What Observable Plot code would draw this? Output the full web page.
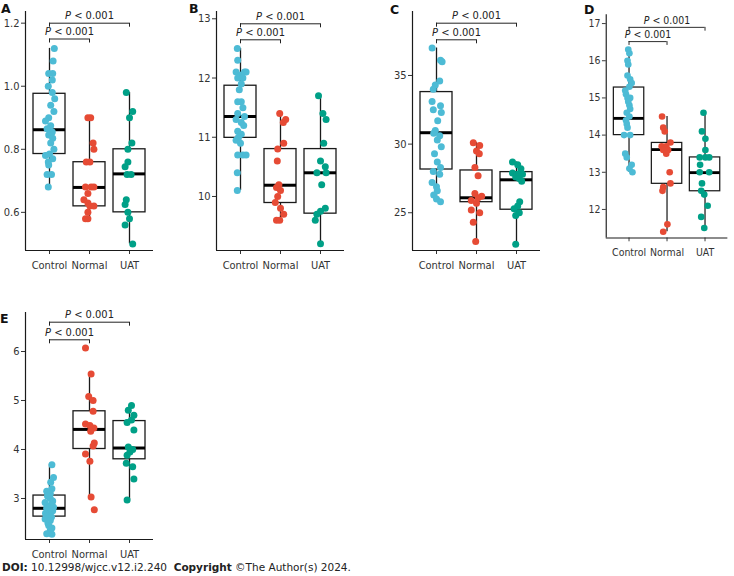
<!DOCTYPE html>
<html><head><meta charset="utf-8">
<script src="https://cdn.jsdelivr.net/npm/d3@7"></script>
<script src="https://cdn.jsdelivr.net/npm/@observablehq/plot@0.6"></script>
<style>
body{margin:0;background:#fff;overflow:hidden;}
#wrap{position:relative;width:734px;height:576px;overflow:hidden;font-family:'DejaVu Sans Condensed','DejaVu Sans',sans-serif;font-stretch:condensed;}
.panel{position:absolute;}
.letter{position:absolute;font-family:'DejaVu Sans',sans-serif;font-stretch:normal;font-weight:bold;font-size:12.5px;line-height:1.2;color:#111;}
#footer{position:absolute;left:2px;top:562px;font-family:'DejaVu Sans',sans-serif;font-stretch:normal;font-size:10.5px;line-height:1;color:#222;white-space:nowrap;}
</style></head><body><div id="wrap"></div>
<script>
const groups = ["Control", "Normal", "UAT"];
const groupColors = ["#4DBBD5", "#E64B35", "#00A087"];
const pLabel = "P < 0.001";

// ---- Panel A ----
const aControl = [1.12,1.08,1.04,1.04,1.02,1.00,0.98,0.96,0.94,0.92,0.90,0.89,0.875,0.865,0.855,0.845,0.835,0.82,0.80,0.785,0.78,0.77,0.76,0.75,0.72,0.72,0.68];
const aControlJit = [0.12,0.09,-0.02,0.08,0.07,-0.03,0.07,0.13,0.03,0.11,-0.02,-0.1,0.03,-0.06,0.07,-0.02,0.08,0.03,0.11,0,-0.1,0.08,-0.03,-0.02,-0.06,0.05,-0.03];
const aNormal = [0.90,0.90,0.82,0.80,0.76,0.76,0.68,0.68,0.68,0.66,0.64,0.63,0.62,0.62,0.60,0.58,0.58];
const aNormalJit = [-0.04,0.03,0.09,0.11,-0.08,0.01,-0.1,0.04,0.11,-0.04,-0.14,-0.04,0.01,0.11,-0.04,-0.1,-0.04];
const aUAT = [0.98,0.92,0.90,0.82,0.80,0.76,0.745,0.72,0.72,0.64,0.625,0.60,0.58,0.56,0.50];
const aUATJit = [-0.08,0.08,0,0.06,-0.04,-0.04,-0.11,-0.06,0.04,-0.08,-0.11,-0.04,0,-0.11,0.08];
const aLo = [0.68,0.58,0.50], aQ1 = [0.785,0.619,0.60], aMed = [0.862,0.679,0.722], aQ3 = [0.976,0.759,0.80], aHi = [1.12,0.90,0.98];
const aTicks = [0.6,0.8,1.0,1.2];

// ---- Panel B ----
const bControl = [12.5,12.3,12.1,12.1,12.1,12.05,12.0,12.0,11.9,11.8,11.6,11.6,11.5,11.4,11.35,11.3,11.25,11.2,11.1,11.05,11.0,10.95,10.9,10.7,10.7,10.7,10.4,10.1];
const bControlJit = [-0.08,-0.07,-0.11,0.1,0.14,0.02,-0.07,0.06,0.02,-0.03,0.02,-0.07,0.06,-0.07,0.1,-0.11,0.02,0.08,-0.07,0.02,-0.05,-0.11,0,-0.07,0.06,0.14,-0.08,-0.08];
const bNormal = [11.4,11.3,11.25,10.9,10.8,10.6,10.2,10.15,10.1,10.0,9.9,9.8,9.7,9.6,9.6];
const bNormalJit = [-0.02,0.13,0.07,0.08,-0.07,-0.08,-0.04,-0.1,0,-0.07,-0.13,0,0.08,-0.1,-0.02];
const bUAT = [11.7,11.4,11.3,10.9,10.6,10.5,10.4,10.4,10.2,9.8,9.75,9.7,9.6,9.2];
const bUATJit = [-0.05,0.06,0.14,0.08,0,0.12,-0.09,0.14,0.03,0.12,0,-0.09,-0.13,0];
const bLo = [10.1,9.6,9.2], bQ1 = [10.99,9.89,9.71], bMed = [11.35,10.19,10.40], bQ3 = [11.87,10.80,10.80], bHi = [12.5,11.4,11.7];
const bTicks = [10,11,12,13];

// ---- Panel C ----
const cControl = [37.0,36.1,36.0,34.6,34.3,34.0,33.1,32.8,32.5,32.3,31.7,31.0,30.8,30.6,30.3,29.8,29.3,28.7,28.3,28.0,27.8,27.2,26.9,26.6,26.3,26.0,25.8];
const cControlJit = [-0.11,0.1,0.14,0.08,-0.03,-0.08,-0.11,0.1,-0.08,0.12,0.03,-0.03,-0.07,0.08,0.02,0.12,-0.05,0.02,0.1,-0.08,0.08,-0.11,0,0.02,-0.07,0,0.1];
const cNormal = [30.1,29.9,29.5,29.3,28.3,27.7,26.4,26.2,26.1,25.9,25.7,25.2,25.0,24.3,22.9];
const cNormalJit = [-0.08,0.08,0,0.07,-0.04,0.04,-0.04,0.13,0.04,-0.13,0,-0.13,0.08,-0.08,-0.02];
const cUAT = [28.7,28.5,28.2,27.9,27.8,27.8,27.6,27.5,27.3,25.8,25.5,25.3,25.0,24.8,22.7];
const cUATJit = [-0.1,0.03,0.11,-0.1,0.03,0.15,-0.02,0.07,0.13,0.08,0.03,-0.06,0.07,-0.02,-0.02];
const cLo = [25.8,22.9,22.7], cQ1 = [28.15,25.77,25.22], cMed = [30.83,26.09,27.40], cQ3 = [33.79,28.08,27.96], cHi = [37.0,30.1,28.7];
const cTicks = [25,30,35];

// ---- Panel D ----
const dControl = [16.3,16.2,16.0,15.9,15.6,15.5,15.4,15.3,15.2,15.1,15.0,15.0,14.9,14.8,14.7,14.6,14.5,14.4,14.3,14.2,14.0,14.0,13.5,13.4,13.2,13.1,13.0];
const dControlJit = [-0.02,0.01,-0.04,-0.02,-0.04,0.03,0.07,0.01,-0.1,-0.08,-0.04,0.03,-0.02,0.01,0.03,-0.06,0.01,-0.08,-0.06,-0.04,-0.13,0.03,-0.1,-0.06,0.07,0.01,0.09];
const dNormal = [14.5,14.2,14.1,13.8,13.7,13.7,13.6,13.6,13.5,13.0,12.7,12.6,12.5,11.6,11.4];
const dNormalJit = [-0.13,-0.1,-0.06,0.09,-0.14,-0.02,-0.1,0.03,-0.02,0.07,0.09,-0.1,-0.12,0.01,-0.1];
const dUAT = [14.6,14.1,13.9,13.6,13.4,13.4,13.4,13.2,13.0,13.0,12.7,12.5,12.4,12.1,11.8,11.5];
const dUATJit = [-0.04,-0.08,0.01,0.01,-0.14,0.01,0.11,-0.13,-0.14,0.11,-0.08,-0.1,-0.02,0.07,-0.1,-0.02];
const dLo = [13.0,11.4,11.5], dQ1 = [14.0,12.69,12.49], dMed = [14.45,13.61,12.99], dQ3 = [15.28,13.79,13.40], dHi = [16.3,14.5,14.6];
const dTicks = [12,13,14,15,16,17];

// ---- Panel E ----
const eControl = [3.69,3.43,3.33,3.2,3.15,3.1,3.05,3.0,2.95,2.92,2.88,2.85,2.82,2.8,2.78,2.75,2.72,2.7,2.65,2.62,2.58,2.55,2.5,2.45,2.4,2.35,2.28,2.27];
const eControlJit = [0.06,0.1,0.03,0.06,-0.07,0.02,-0.05,0.02,0.08,-0.11,0.06,-0.06,0.1,-0.07,0.03,0.08,0.02,-0.1,-0.07,0.05,-0.11,0.02,-0.04,-0.02,0.06,0.02,-0.07,0.06];
const eNormal = [6.07,5.54,5.08,5.0,4.78,4.52,4.49,4.44,4.37,4.13,4.07,3.91,3.76,3.03,2.77];
const eNormalJit = [-0.1,0.04,-0.02,0.09,0.09,-0.1,0.01,0.11,0.03,0.12,0.09,-0.1,0.01,0.04,0.12];
const eUAT = [4.9,4.8,4.7,4.6,4.55,4.4,4.05,4.0,3.95,3.88,3.72,3.65,3.4,2.97];
const eUATJit = [0.05,-0.03,0.11,0.05,-0.06,0.11,-0.03,0.08,0.01,-0.06,-0.08,0.08,0.11,-0.06];
const eLo = [2.27,3.03,2.97], eQ1 = [2.63,4.01,3.80], eMed = [2.80,4.41,4.03], eQ3 = [3.06,4.78,4.58], eHi = [3.69,5.54,4.9];
const eTicks = [3,4,5,6];

const panels = [
  {letter:"A", vals:[aControl,aNormal,aUAT], jits:[aControlJit,aNormalJit,aUATJit], lo:aLo,q1:aQ1,med:aMed,q3:aQ3,hi:aHi, ticks:aTicks, fmt:d3.format(".1f"),
   left:0, top:0, mt:11, plotH:239, domain:[0.479,1.237], br:[11.7,27.5], lx:1, ly:1},
  {letter:"B", vals:[bControl,bNormal,bUAT], jits:[bControlJit,bNormalJit,bUATJit], lo:bLo,q1:bQ1,med:bMed,q3:bQ3,hi:bHi, ticks:bTicks, fmt:d3.format("d"),
   left:191, top:0, mt:11, plotH:239, domain:[9.088,13.123], br:[12.3,28.3], lx:189, ly:1},
  {letter:"C", vals:[cControl,cNormal,cUAT], jits:[cControlJit,cNormalJit,cUATJit], lo:cLo,q1:cQ1,med:cMed,q3:cQ3,hi:cHi, ticks:cTicks, fmt:d3.format("d"),
   left:387, top:0, mt:11, plotH:239, domain:[22.25,39.66], br:[11.7,28.3], lx:390, ly:2},
  {letter:"D", vals:[dControl,dNormal,dUAT], jits:[dControlJit,dNormalJit,dUATJit], lo:dLo,q1:dQ1,med:dMed,q3:dQ3,hi:dHi, ticks:dTicks, fmt:d3.format("d"),
   left:582, top:0, mt:15, plotH:235, domain:[11.233,17.238], br:[13.3,28.3], lx:584, ly:2},
  {letter:"E", vals:[eControl,eNormal,eUAT], jits:[eControlJit,eNormalJit,eUATJit], lo:eLo,q1:eQ1,med:eMed,q3:eQ3,hi:eHi, ticks:eTicks, fmt:d3.format("d"),
   left:0, top:300, mt:12, plotH:227, domain:[2.163,6.796], br:[9.7,27.3], lx:0, ly:311}
];

const wrap = document.getElementById("wrap");
const fontFam = "'DejaVu Sans Condensed','DejaVu Sans',sans-serif";

for (const p of panels) {
  const points = [];
  p.vals.forEach((arr, g) => arr.forEach((v, i) => points.push({x: g + 1 + p.jits[g][i], y: v, grp: groups[g]})));
  const boxes = groups.map((grp, g) => ({c: g + 1, lo: p.lo[g], q1: p.q1[g], med: p.med[g], q3: p.q3[g], hi: p.hi[g]}));
  const span = p.domain[1] - p.domain[0];
  const perPx = span / p.plotH;
  const tickLen = 4 * perPx;
  const brackets = [
    {x1: 1, x2: 3, y: p.domain[1] - p.br[0] * perPx},
    {x1: 1, x2: 2, y: p.domain[1] - p.br[1] * perPx}
  ];
  const hw = 0.4;
  const svg = Plot.plot({
    width: 160,
    height: p.mt + p.plotH + 26,
    marginLeft: 25, marginRight: 7, marginTop: p.mt, marginBottom: 26,
    style: {background: "transparent", fontFamily: fontFam, fontSize: "11px", color: "#333", overflow: "visible", fontStretch: "condensed"},
    x: {domain: [0.4, 3.6], ticks: [1, 2, 3], tickFormat: d => groups[d - 1], tickSize: 4, tickPadding: 7, label: null},
    y: {domain: p.domain, ticks: p.ticks, tickFormat: p.fmt, tickSize: 4, tickPadding: 2, label: null},
    color: {domain: groups, range: groupColors},
    marks: [
      Plot.ruleX([0.4], {stroke: "#1a1a1a", strokeWidth: 1.2}),
      Plot.ruleY([p.domain[0]], {stroke: "#1a1a1a", strokeWidth: 1.2}),
      Plot.ruleX(boxes, {x: "c", y1: "lo", y2: "hi", stroke: "#1a1a1a", strokeWidth: 1.3}),
      Plot.rect(boxes, {x1: d => d.c - hw, x2: d => d.c + hw, y1: "q1", y2: "q3", fill: "white", stroke: "#1a1a1a", strokeWidth: 1.3}),
      Plot.ruleY(boxes, {y: "med", x1: d => d.c - hw, x2: d => d.c + hw, stroke: "#000", strokeWidth: 3}),
      Plot.dot(points, {x: "x", y: "y", r: 3.5, fill: "grp"}),
      Plot.ruleY(brackets, {y: "y", x1: "x1", x2: "x2", stroke: "#222", strokeWidth: 1}),
      Plot.ruleX(brackets, {x: "x1", y1: "y", y2: d => d.y - tickLen, stroke: "#222", strokeWidth: 1}),
      Plot.ruleX(brackets, {x: "x2", y1: "y", y2: d => d.y - tickLen, stroke: "#222", strokeWidth: 1}),
      Plot.text(brackets, {x: d => (d.x1 + d.x2) / 2, y: "y", text: () => pLabel, dy: -4, lineAnchor: "bottom", fill: "#222", fontSize: 11})
    ]
  });
  svg.querySelectorAll("text").forEach(t => {
    if (t.textContent === pLabel) {
      t.textContent = "";
      const it = document.createElementNS("http://www.w3.org/2000/svg", "tspan");
      it.setAttribute("font-style", "italic");
      it.textContent = "P";
      t.appendChild(it);
      t.appendChild(document.createTextNode(" < 0.001"));
    }
  });
  const div = document.createElement("div");
  div.className = "panel";
  div.style.left = p.left + "px";
  div.style.top = p.top + "px";
  div.appendChild(svg);
  wrap.appendChild(div);
  const lab = document.createElement("div");
  lab.className = "letter";
  lab.style.left = p.lx + "px";
  lab.style.top = p.ly + "px";
  lab.textContent = p.letter;
  wrap.appendChild(lab);
}

const footer = document.createElement("div");
footer.id = "footer";
footer.innerHTML = "<b>DOI:</b> 10.12998/wjcc.v12.i2.240&nbsp; <b>Copyright</b> ©The Author(s) 2024.";
wrap.appendChild(footer);
</script>
</body></html>
